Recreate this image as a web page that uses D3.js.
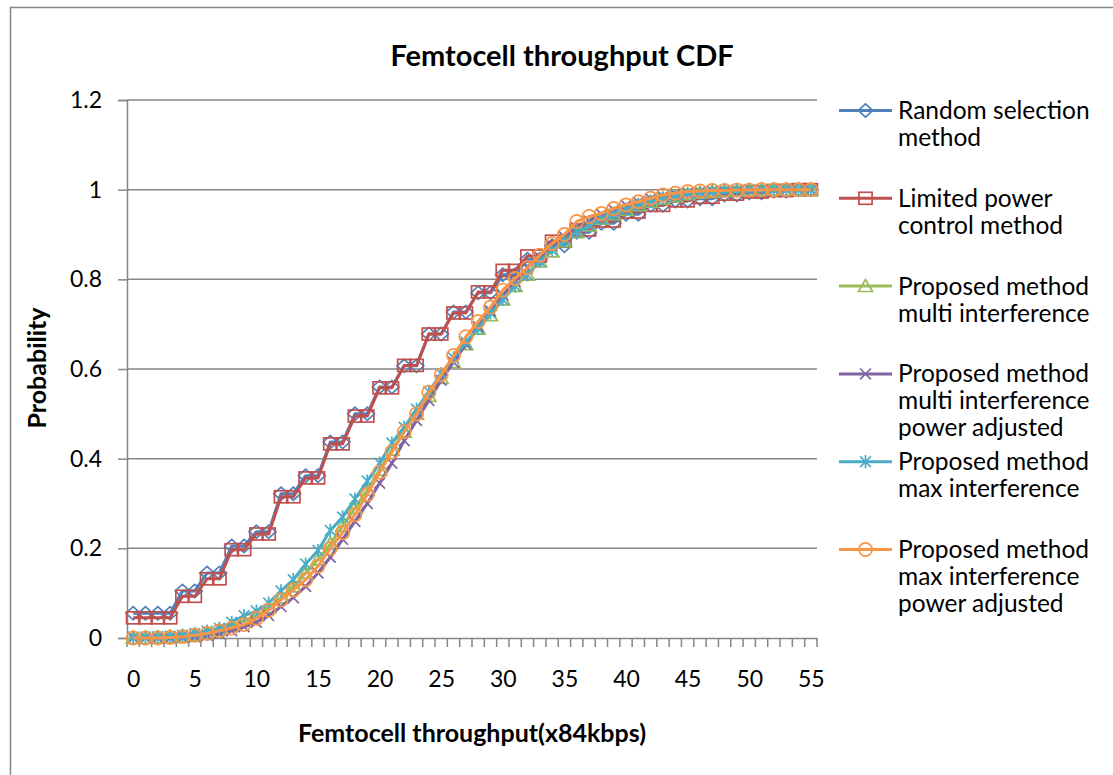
<!DOCTYPE html>
<html>
<head>
<meta charset="utf-8">
<script src="https://cdn.jsdelivr.net/npm/d3@7"></script>
<style>
  html, body { margin: 0; padding: 0; background: #fff; }
  svg { display: block; }
  text { font-family: Lato, "Open Sans", "Liberation Sans", sans-serif; fill: #000; }
</style>
</head>
<body>
<svg id="chart" width="1113" height="775"></svg>
<script>
// ---------- data ----------
const categories = d3.range(0, 56);
const xTickLabels = ["0","5","10","15","20","25","30","35","40","45","50","55"];
const yTickLabels = ["0","0.2","0.4","0.6","0.8","1","1.2"];
const yTickValues = [0, 0.2, 0.4, 0.6, 0.8, 1.0, 1.2];

const seriesNames = [
  ["Random selection", "method"],
  ["Limited power", "control method"],
  ["Proposed method", "multi interference"],
  ["Proposed method", "multi interference", "power adjusted"],
  ["Proposed method", "max interference"],
  ["Proposed method", "max interference", "power adjusted"]
];
const seriesColors = ["#4F81BD", "#C0504D", "#9BBB59", "#8064A2", "#4BACC6", "#F79646"];
const seriesMarkers = ["diamond", "square", "triangle", "x", "star", "circle"];

const randomSelection = [
  0.055,0.055,0.055,0.055,0.105,0.105,0.145,0.145,0.205,0.205,
  0.237,0.237,0.322,0.322,0.362,0.362,0.437,0.437,0.500,0.500,
  0.560,0.560,0.607,0.607,0.678,0.678,0.727,0.727,0.770,0.770,
  0.810,0.810,0.845,0.845,0.875,0.875,0.905,0.905,0.925,0.925,
  0.945,0.945,0.965,0.965,0.975,0.975,0.980,0.980,0.988,0.988,
  0.993,0.993,0.997,0.997,1.000,1.000
];
const limitedPower = [
  0.045,0.045,0.045,0.045,0.093,0.093,0.132,0.132,0.197,0.197,
  0.232,0.232,0.315,0.315,0.357,0.357,0.433,0.433,0.495,0.495,
  0.558,0.558,0.608,0.608,0.678,0.678,0.725,0.725,0.772,0.772,
  0.820,0.820,0.852,0.852,0.885,0.885,0.910,0.910,0.930,0.930,
  0.950,0.950,0.965,0.965,0.975,0.975,0.983,0.983,0.990,0.990,
  0.995,0.995,0.998,0.998,1.000,1.000
];
const multiInterference = [
  0.000,0.000,0.001,0.002,0.004,0.007,0.012,0.018,0.028,0.038,
  0.050,0.068,0.090,0.115,0.145,0.175,0.210,0.250,0.290,0.330,
  0.375,0.420,0.460,0.500,0.540,0.580,0.615,0.655,0.690,0.720,
  0.755,0.785,0.810,0.840,0.862,0.885,0.905,0.920,0.935,0.945,
  0.955,0.965,0.973,0.980,0.985,0.990,0.993,0.995,0.997,0.998,
  0.999,1.000,1.000,1.000,1.000,1.000
];
const multiInterferencePA = [
  0.000,0.000,0.000,0.000,0.001,0.003,0.006,0.010,0.016,0.025,
  0.035,0.050,0.070,0.090,0.115,0.145,0.180,0.220,0.260,0.300,
  0.345,0.390,0.440,0.485,0.530,0.575,0.615,0.655,0.695,0.730,
  0.765,0.795,0.825,0.850,0.875,0.895,0.915,0.930,0.945,0.955,
  0.965,0.972,0.980,0.985,0.990,0.993,0.995,0.997,0.998,0.999,
  1.000,1.000,1.000,1.000,1.000,1.000
];
const maxInterference = [
  0.002,0.002,0.003,0.004,0.006,0.010,0.015,0.022,0.035,0.050,
  0.060,0.078,0.105,0.130,0.165,0.195,0.240,0.270,0.310,0.350,
  0.390,0.435,0.470,0.510,0.550,0.590,0.625,0.660,0.690,0.725,
  0.755,0.785,0.810,0.840,0.865,0.885,0.905,0.920,0.935,0.945,
  0.955,0.965,0.973,0.980,0.985,0.990,0.993,0.995,0.997,0.998,
  0.999,1.000,1.000,1.000,1.000,1.000
];
const maxInterferencePA = [
  0.000,0.000,0.000,0.001,0.003,0.006,0.010,0.016,0.022,0.030,
  0.044,0.062,0.085,0.107,0.130,0.160,0.200,0.235,0.275,0.320,
  0.370,0.415,0.460,0.500,0.548,0.587,0.630,0.672,0.706,0.738,
  0.776,0.802,0.826,0.854,0.880,0.900,0.929,0.940,0.947,0.958,
  0.966,0.973,0.981,0.988,0.992,0.996,0.997,0.998,0.998,0.999,
  0.999,1.000,1.000,1.000,1.000,1.000
];
const seriesValues = [randomSelection, limitedPower, multiInterference,
                      multiInterferencePA, maxInterference, maxInterferencePA];

// ---------- layout ----------
const svg = d3.select("#chart");
const plot = { left: 127, right: 817, top: 100, bottom: 638 };
const gridColor = "#868686";
const tickFont = 23;

const x = d3.scalePoint().domain(categories).range([plot.left, plot.right]).padding(0.5);
const step = x.step();
const y = d3.scaleLinear().domain([0, 1.2]).range([plot.bottom, plot.top]);

// outer chart border
svg.append("rect")
  .attr("x", 10.5).attr("y", 7.5).attr("width", 1120).attr("height", 800)
  .attr("fill", "none").attr("stroke", gridColor).attr("stroke-width", 1.5);

// gridlines
svg.append("g").selectAll("line").data(yTickValues.filter(v => v > 0)).join("line")
  .attr("x1", plot.left).attr("x2", plot.right)
  .attr("y1", d => y(d)).attr("y2", d => y(d))
  .attr("stroke", gridColor).attr("stroke-width", 1.5);

// y axis
const yAxis = d3.axisLeft(y).tickValues(yTickValues)
  .tickFormat((d, i) => yTickLabels[i]).tickSize(9).tickPadding(16);
const gy = svg.append("g").attr("transform", `translate(${plot.left},0)`).call(yAxis);
gy.select(".domain").attr("stroke", gridColor).attr("stroke-width", 1.5);
gy.selectAll(".tick line").attr("stroke", gridColor).attr("stroke-width", 1.5);
gy.selectAll(".tick text").attr("font-size", tickFont).attr("font-family", "Lato, sans-serif").attr("fill", "#000");

// x axis
const xAxis = d3.axisBottom(x)
  .tickValues(categories.filter(d => d % 5 === 0))
  .tickFormat(d => xTickLabels[d / 5]).tickSize(0).tickPadding(33);
const gx = svg.append("g").attr("transform", `translate(0,${plot.bottom})`).call(xAxis);
gx.select(".domain").attr("stroke", gridColor).attr("stroke-width", 1.5);
gx.selectAll(".tick text").attr("font-size", tickFont).attr("font-family", "Lato, sans-serif").attr("fill", "#000");
// category boundary ticks
gx.append("g").selectAll("line").data(categories.concat([56])).join("line")
  .attr("x1", d => plot.left + d * step).attr("x2", d => plot.left + d * step)
  .attr("y1", 0).attr("y2", 9)
  .attr("stroke", gridColor).attr("stroke-width", 1.5);

// marker drawing
function drawMarker(g, type, color, size) {
  const s = size;
  const common = sel => sel.attr("fill", "none").attr("stroke", color).attr("stroke-width", 1.7);
  if (type === "diamond") {
    g.append("path").attr("d", `M0,${-s*0.55}L${s*0.6},0L0,${s*0.55}L${-s*0.6},0Z`).call(common);
  } else if (type === "square") {
    g.append("rect").attr("x", -s*0.55).attr("y", -s*0.5).attr("width", s*1.1).attr("height", s).call(common);
  } else if (type === "triangle") {
    g.append("path").attr("d", `M0,${-s*0.55}L${s*0.58},${s*0.45}L${-s*0.58},${s*0.45}Z`).call(common);
  } else if (type === "x") {
    g.append("path").attr("d", `M${-s*0.45},${-s*0.45}L${s*0.45},${s*0.45}M${s*0.45},${-s*0.45}L${-s*0.45},${s*0.45}`).call(common);
  } else if (type === "star") {
    g.append("path").attr("d", `M${-s*0.45},${-s*0.45}L${s*0.45},${s*0.45}M${s*0.45},${-s*0.45}L${-s*0.45},${s*0.45}M0,${-s*0.55}L0,${s*0.55}`).call(common);
  } else if (type === "circle") {
    g.append("circle").attr("r", s*0.55).call(common);
  }
}

const line = d3.line().x((d, i) => x(categories[i])).y(d => y(d));
const markerSize = 12;

seriesValues.forEach((vals, si) => {
  const g = svg.append("g");
  g.append("path").datum(vals).attr("d", line)
    .attr("fill", "none").attr("stroke", seriesColors[si]).attr("stroke-width", 3)
    .attr("stroke-linejoin", "round");
  vals.forEach((v, i) => {
    const mg = g.append("g").attr("transform", `translate(${x(categories[i])},${y(v)})`);
    drawMarker(mg, seriesMarkers[si], seriesColors[si], markerSize);
  });
});

// title
svg.append("text").attr("x", 562).attr("y", 66).attr("text-anchor", "middle")
  .attr("font-size", 29).attr("font-weight", "bold").text("Femtocell throughput CDF");

// axis titles
svg.append("text").attr("x", 472).attr("y", 742).attr("text-anchor", "middle")
  .attr("font-size", 25).attr("font-weight", "bold").text("Femtocell throughput(x84kbps)");
svg.append("text").attr("transform", "translate(46,368) rotate(-90)").attr("text-anchor", "middle")
  .attr("font-size", 25).attr("font-weight", "bold").text("Probability");

// legend
const legendTop = 110.5, legendStep = 87.8, lineH = 27;
seriesNames.forEach((lines, si) => {
  const cy = legendTop + si * legendStep;
  const g = svg.append("g");
  g.append("line").attr("x1", 839).attr("x2", 892).attr("y1", cy).attr("y2", cy)
    .attr("stroke", seriesColors[si]).attr("stroke-width", 3);
  const mg = g.append("g").attr("transform", `translate(865.5,${cy})`);
  drawMarker(mg, seriesMarkers[si], seriesColors[si], markerSize);
  lines.forEach((t, li) => {
    g.append("text").attr("x", 898).attr("y", cy + li * lineH + 8.5)
      .attr("font-size", 24.5).text(t);
  });
});
</script>
</body>
</html>
